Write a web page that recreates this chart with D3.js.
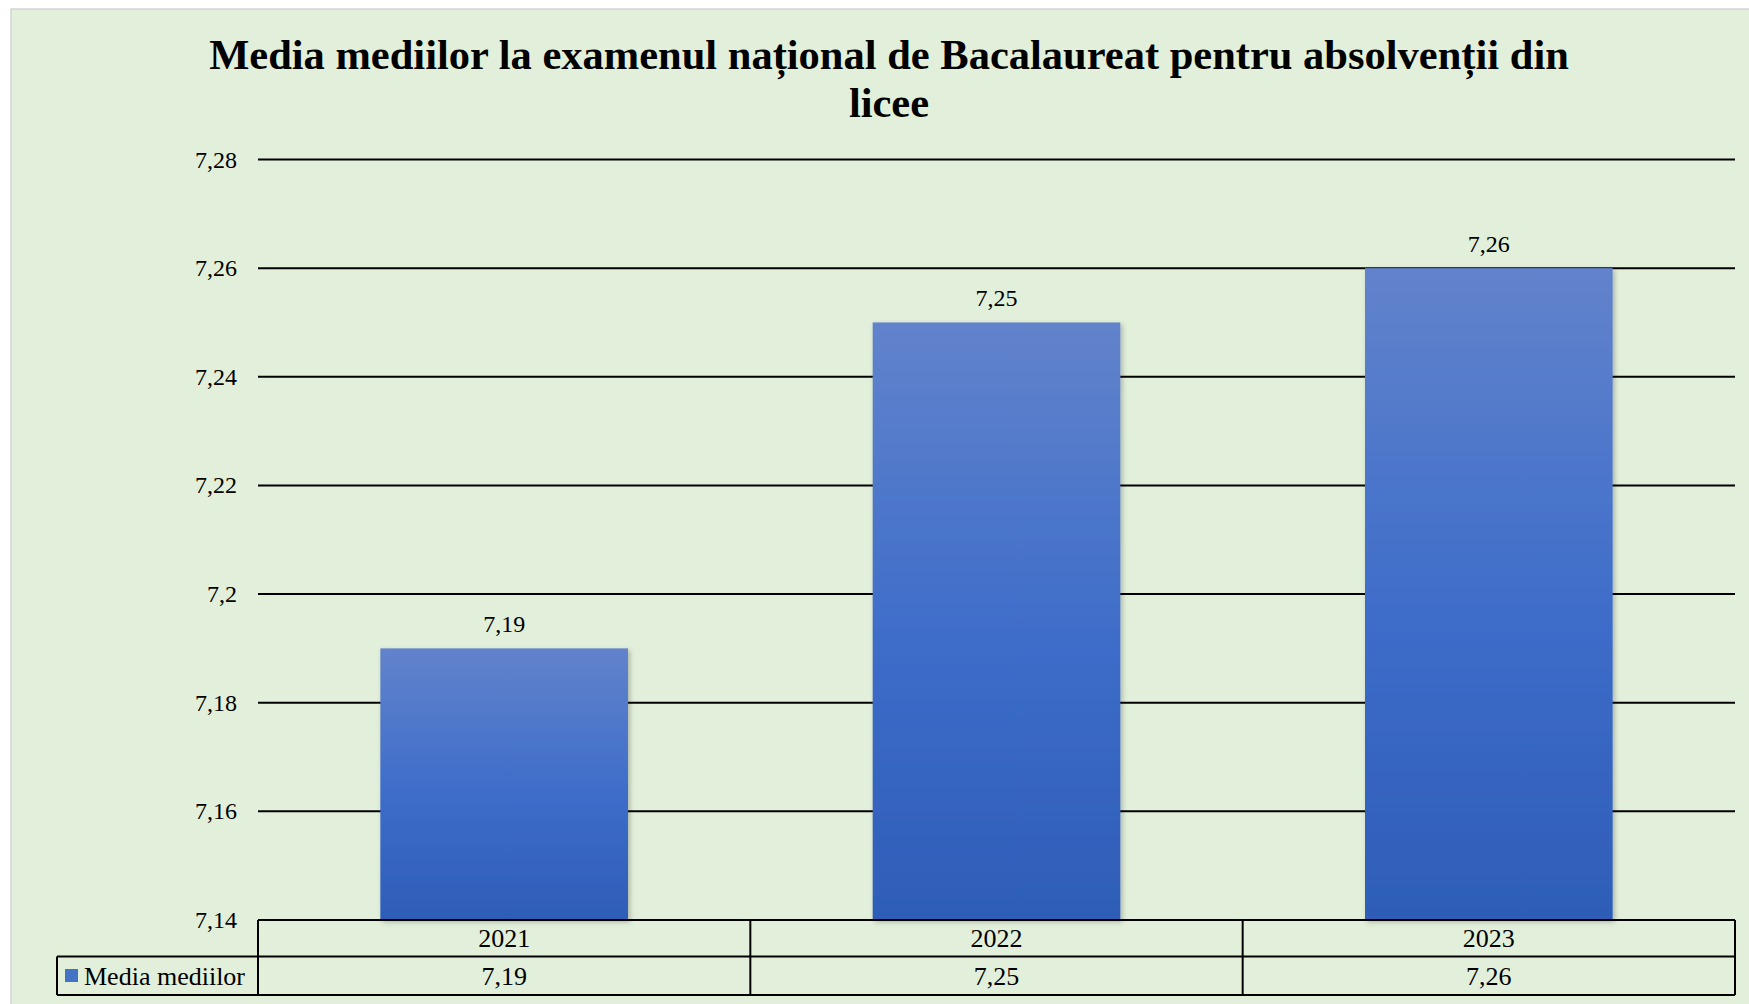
<!DOCTYPE html>
<html>
<head>
<meta charset="utf-8">
<script src="https://cdn.jsdelivr.net/npm/d3@7"></script>
<style>
  html, body { margin: 0; padding: 0; background: #fff; }
  svg text { font-family: "Liberation Serif", "Times New Roman", serif; fill: #000; }
</style>
</head>
<body>
<svg id="chart" width="1749" height="1004"></svg>
<script>
// data
const years = ['2021', '2022', '2023'];
const values = [7.19, 7.25, 7.26];
const seriesName = 'Media mediilor';
const yTicks = [7.14, 7.16, 7.18, 7.2, 7.22, 7.24, 7.26, 7.28];
const titleLines = ['Media mediilor la examenul național de Bacalaureat pentru absolvenții din', 'licee'];

const svg = d3.select('#chart');
const width = +svg.attr('width');
const height = +svg.attr('height');

const plotLeft = 258, plotRight = 1735;
const plotTop = 159.5, plotBottom = 920;
const row1Bottom = 956.5, row2Bottom = 995;
const legendLeft = 57;

const fmt = v => String(v).replace('.', ',');

// chart area background
svg.append('rect')
  .attr('x', 11).attr('y', 9)
  .attr('width', width).attr('height', height)
  .attr('fill', '#e2efda')
  .attr('stroke', '#d4d4d4')
  .attr('stroke-width', 1.5);

// gradient for bars
const defs = svg.append('defs');
const grad = defs.append('linearGradient')
  .attr('id', 'barGrad').attr('x1', 0).attr('y1', 0).attr('x2', 0).attr('y2', 1);
grad.append('stop').attr('offset', '0%').attr('stop-color', '#6283cc');
grad.append('stop').attr('offset', '55%').attr('stop-color', '#3c6cc9');
grad.append('stop').attr('offset', '100%').attr('stop-color', '#2e5db7');

const shadow = defs.append('filter').attr('id', 'shadow')
  .attr('x', '-10%').attr('y', '-10%').attr('width', '130%').attr('height', '130%');
shadow.append('feDropShadow')
  .attr('dx', 2).attr('dy', 2).attr('stdDeviation', 2.5)
  .attr('flood-color', '#000').attr('flood-opacity', 0.25);

// title
svg.append('text')
  .attr('x', 889)
  .attr('text-anchor', 'middle')
  .style('font-size', '42.5px')
  .style('font-weight', 'bold')
  .selectAll('tspan')
  .data(titleLines)
  .enter()
  .append('tspan')
  .attr('x', 889)
  .attr('y', (d, i) => 69 + i * 48)
  .text(d => d);

// scales
const x = d3.scaleBand().domain(years).range([plotLeft, plotRight]).padding(0);
const y = d3.scaleLinear().domain([7.14, 7.28]).range([plotBottom, plotTop]);
const barW = x.bandwidth() * 0.503;

// gridlines
svg.append('g')
  .selectAll('line')
  .data(yTicks.filter(t => t > 7.14))
  .enter()
  .append('line')
  .attr('x1', plotLeft).attr('x2', plotRight)
  .attr('y1', d => y(d)).attr('y2', d => y(d))
  .attr('stroke', '#000')
  .attr('stroke-width', 2);

// y labels
svg.append('g')
  .selectAll('text')
  .data(yTicks)
  .enter()
  .append('text')
  .attr('x', 237)
  .attr('y', d => y(d) + 8)
  .attr('text-anchor', 'end')
  .style('font-size', '24px')
  .text(fmt);

// bars
svg.append('g')
  .selectAll('rect')
  .data(values)
  .enter()
  .append('rect')
  .attr('x', (d, i) => x(years[i]) + (x.bandwidth() - barW) / 2)
  .attr('y', d => y(d))
  .attr('width', barW)
  .attr('height', d => y(7.14) - y(d))
  .attr('fill', 'url(#barGrad)')
  .attr('filter', 'url(#shadow)');

// data labels
svg.append('g')
  .selectAll('text')
  .data(values)
  .enter()
  .append('text')
  .attr('x', (d, i) => x(years[i]) + x.bandwidth() / 2)
  .attr('y', d => y(d) - 16)
  .attr('text-anchor', 'middle')
  .style('font-size', '24px')
  .text(fmt);

// data table
const table = svg.append('g')
  .attr('stroke', '#000')
  .attr('stroke-width', 2);

// horizontal lines
table.append('line').attr('x1', plotLeft).attr('x2', plotRight).attr('y1', plotBottom).attr('y2', plotBottom);
table.append('line').attr('x1', legendLeft).attr('x2', plotRight).attr('y1', row1Bottom).attr('y2', row1Bottom);
table.append('line').attr('x1', legendLeft).attr('x2', plotRight).attr('y1', row2Bottom).attr('y2', row2Bottom);
// vertical lines
table.append('line').attr('x1', legendLeft).attr('x2', legendLeft).attr('y1', row1Bottom).attr('y2', row2Bottom);
table.selectAll('line.col')
  .data(years.concat(['end']))
  .enter()
  .append('line')
  .attr('class', 'col')
  .attr('x1', (d, i) => i < years.length ? x(d) : plotRight)
  .attr('x2', (d, i) => i < years.length ? x(d) : plotRight)
  .attr('y1', plotBottom).attr('y2', row2Bottom);

svg.append('g')
  .selectAll('text')
  .data(years)
  .enter()
  .append('text')
  .attr('x', d => x(d) + x.bandwidth() / 2)
  .attr('y', (plotBottom + row1Bottom) / 2 + 9)
  .attr('text-anchor', 'middle')
  .style('font-size', '26px')
  .text(d => d);

svg.append('g')
  .selectAll('text')
  .data(values)
  .enter()
  .append('text')
  .attr('x', (d, i) => x(years[i]) + x.bandwidth() / 2)
  .attr('y', (row1Bottom + row2Bottom) / 2 + 9)
  .attr('text-anchor', 'middle')
  .style('font-size', '26px')
  .text(fmt);

// legend key
svg.append('rect')
  .attr('x', 65).attr('y', 969)
  .attr('width', 13).attr('height', 13)
  .attr('fill', '#4472c4');
svg.append('text')
  .attr('x', 84)
  .attr('y', (row1Bottom + row2Bottom) / 2 + 9)
  .style('font-size', '26px')
  .text(seriesName);
</script>
</body>
</html>
